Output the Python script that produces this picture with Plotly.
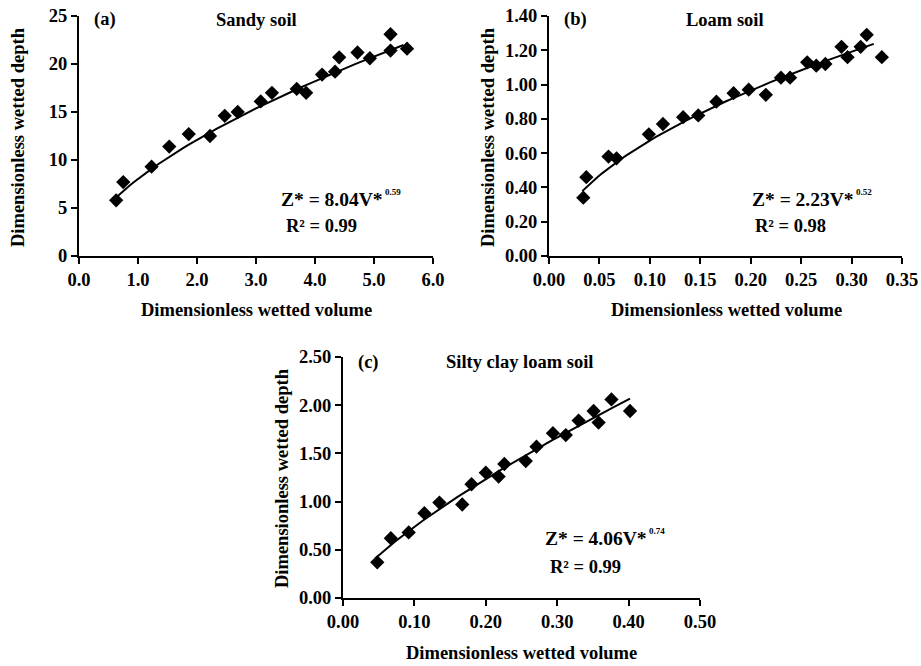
import plotly.graph_objects as go

# Panel (a) Sandy soil
sandy_v = [0.63, 0.75, 1.23, 1.53, 1.86, 2.22, 2.47, 2.69, 3.08, 3.27, 3.69, 3.85, 4.12, 4.34, 4.41, 4.72, 4.93, 5.28, 5.28, 5.56]
sandy_z = [5.8, 7.7, 9.3, 11.4, 12.7, 12.5, 14.6, 15.0, 16.1, 17.0, 17.4, 17.0, 18.9, 19.2, 20.7, 21.2, 20.6, 23.1, 21.4, 21.6]

# Panel (b) Loam soil
loam_v = [0.034, 0.037, 0.059, 0.067, 0.099, 0.113, 0.133, 0.148, 0.166, 0.183, 0.198, 0.215, 0.230, 0.239,
          0.256, 0.265, 0.274, 0.290, 0.296, 0.309, 0.315, 0.330]
loam_z = [0.34, 0.46, 0.58, 0.57, 0.71, 0.77, 0.81, 0.82, 0.90, 0.95, 0.97, 0.94, 1.04, 1.04,
          1.13, 1.11, 1.12, 1.22, 1.16, 1.22, 1.29, 1.16]

# Panel (c) Silty clay loam soil
silty_v = [0.048, 0.067, 0.092, 0.114, 0.135, 0.167, 0.180, 0.200, 0.218, 0.226, 0.256, 0.271, 0.294,
           0.312, 0.330, 0.351, 0.358, 0.376, 0.402]
silty_z = [0.37, 0.62, 0.68, 0.88, 0.99, 0.97, 1.18, 1.30, 1.26, 1.39, 1.42, 1.57, 1.71,
           1.69, 1.84, 1.94, 1.82, 2.06, 1.94]

# Fitted power-law curves Z* = a V*^b (coefficients printed on the chart)
fit_a = [8.04, 2.23, 4.06]
fit_b = [0.59, 0.52, 0.74]
fit_lo = [0.60, 0.033, 0.045]
fit_hi = [5.50, 0.322, 0.402]
r2_vals = ["0.99", "0.98", "0.99"]
panel_tags = ["(a)", "(b)", "(c)"]
panel_titles = ["Sandy soil", "Loam soil", "Silty clay loam soil"]

FONT = "Liberation Serif"
FS = 18.5
fig = go.Figure()

datasets = [(sandy_v, sandy_z), (loam_v, loam_z), (silty_v, silty_z)]
axes = [("x", "y"), ("x2", "y2"), ("x3", "y3")]
for i, ((vx, vz), (xa, ya)) in enumerate(zip(datasets, axes)):
    n = 60
    cx = [fit_lo[i] + (fit_hi[i] - fit_lo[i]) * k / (n - 1) for k in range(n)]
    cy = [fit_a[i] * v ** fit_b[i] for v in cx]
    fig.add_trace(go.Scatter(x=cx, y=cy, mode="lines", line=dict(color="black", width=2),
                             xaxis=xa, yaxis=ya, showlegend=False, hoverinfo="skip"))
    fig.add_trace(go.Scatter(x=vx, y=vz, mode="markers",
                             marker=dict(symbol="diamond", size=11, color="black"),
                             xaxis=xa, yaxis=ya, showlegend=False))

tickfont = dict(family=FONT, size=FS, color="black", weight="bold")
common = dict(showline=True, linecolor="black", linewidth=2, ticks="outside", ticklen=6,
              tickwidth=2, tickcolor="black", showgrid=False, zeroline=False,
              tickfont=tickfont, fixedrange=True, automargin=False)

W, H = 921.0, 666.0
def px(x):
    return x / W
def py(y):
    return 1 - y / H

dom = {
    "a": dict(x=[px(79), px(433)], y=[py(256), py(16)]),
    "b": dict(x=[px(549), px(902)], y=[py(256), py(16)]),
    "c": dict(x=[px(343), px(700)], y=[py(598), py(357)]),
}

fig.update_layout(
    width=921, height=666, autosize=False,
    margin=dict(l=0, r=0, t=0, b=0, pad=0),
    paper_bgcolor="white", plot_bgcolor="white",
    xaxis=dict(domain=dom["a"]["x"], anchor="y", range=[0, 6], dtick=1, tick0=0, tickformat=".1f", **common),
    yaxis=dict(domain=dom["a"]["y"], anchor="x", range=[0, 25], dtick=5, tick0=0, tickformat="d", **common),
    xaxis2=dict(domain=dom["b"]["x"], anchor="y2", range=[0, 0.35], dtick=0.05, tick0=0, tickformat=".2f", **common),
    yaxis2=dict(domain=dom["b"]["y"], anchor="x2", range=[0, 1.40], dtick=0.2, tick0=0, tickformat=".2f", **common),
    xaxis3=dict(domain=dom["c"]["x"], anchor="y3", range=[0, 0.50], dtick=0.1, tick0=0, tickformat=".2f", **common),
    yaxis3=dict(domain=dom["c"]["y"], anchor="x3", range=[0, 2.50], dtick=0.5, tick0=0, tickformat=".2f", **common),
)

tf = dict(family=FONT, size=FS, color="black", weight="bold")
tf_eq = dict(family=FONT, size=19.5, color="black", weight="bold")
tf_sup = dict(family=FONT, size=9, color="black", weight="bold")
ann = []

xt_pos = [(256, 310), (726, 310), (521, 653)]
yt_pos = [(18, 137), (488, 137), (282, 478)]
tag_pos = [(105, 20), (575, 20), (368, 362)]
title_pos = [(256, 20), (725, 20), (520, 362)]
eq_start = [(279, 199), (750, 199), (543, 538)]
r2_pos = [(284, 226), (753, 226), (548, 567)]

def a(text, x, y, font, xanchor="center", **kw):
    ann.append(dict(text=text, x=px(x), y=py(y), xref="paper", yref="paper", showarrow=False,
                    font=font, xanchor=xanchor, yanchor="middle", **kw))

for i in range(3):
    a("Dimensionless wetted volume", xt_pos[i][0], xt_pos[i][1], tf)
    a("Dimensionless wetted depth", yt_pos[i][0], yt_pos[i][1], tf, textangle=-90)
    a(panel_tags[i], tag_pos[i][0], tag_pos[i][1], tf)
    a(panel_titles[i], title_pos[i][0], title_pos[i][1], tf)
    ex, ey = eq_start[i]
    a("Z* = %.2fV*" % fit_a[i], ex + 105, ey, tf_eq, xanchor="right", borderpad=0)
    a("%.2f" % fit_b[i], ex + 105, ey - 7, tf_sup, xanchor="left", borderpad=0)
    a("R\u00b2 = " + r2_vals[i], r2_pos[i][0], r2_pos[i][1], tf, xanchor="left")

fig.update_layout(annotations=ann)
fig.write_html("out.html", config={"displayModeBar": False},
               post_script="document.body.style.margin='0';")
